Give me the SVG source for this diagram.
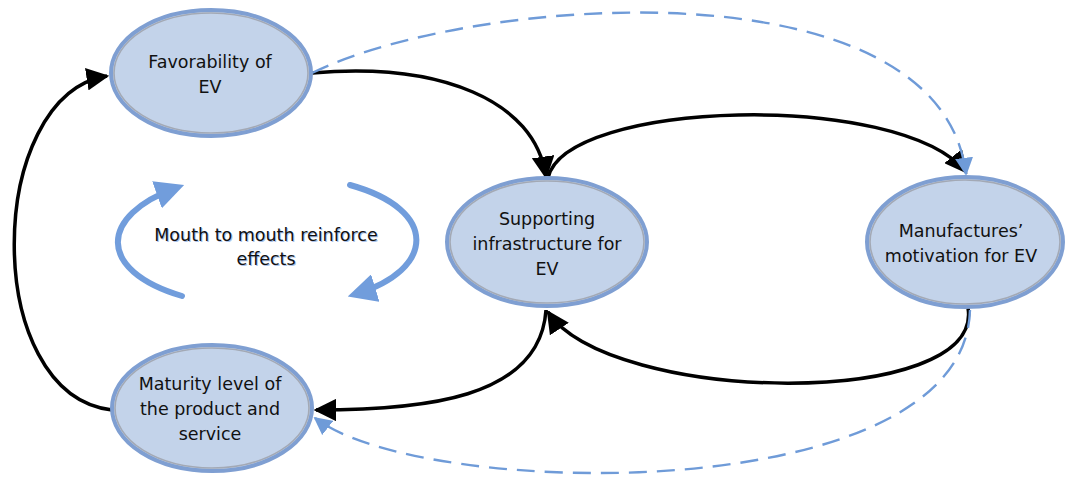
<svg xmlns="http://www.w3.org/2000/svg" width="1065" height="482" viewBox="0 0 1065 482">
<defs>
<style>
.node-outer{fill:#c3d3ea;stroke:#7f9fd2;stroke-width:4}
.node-inner{fill:none;stroke:#a3a9b5;stroke-width:1.6}
.lbl{font-family:"DejaVu Sans",Verdana,sans-serif;font-size:17.5px;fill:#111;text-anchor:middle}
.blk{fill:none;stroke:#000;stroke-width:3.5;marker-end:url(#ab)}
.dash{fill:none;stroke:#6f9bd8;stroke-width:2.4;stroke-dasharray:18 10}
.loop{fill:none;stroke:#719ddc;stroke-width:6;stroke-linecap:round}
</style>
<marker id="ab" viewBox="0 0 10 10" refX="9" refY="5" markerWidth="6.5" markerHeight="6.5" orient="auto" markerUnits="strokeWidth">
<path d="M0,0 L10,5 L0,10 Z" fill="#000"/>
</marker>
<marker id="ad" viewBox="0 0 10 10" refX="9" refY="5" markerWidth="7.5" markerHeight="7.5" orient="auto" markerUnits="strokeWidth">
<path d="M0,0 L10,5 L0,10 Z" fill="#6f9bd8"/>
</marker>
<marker id="al" viewBox="0 0 10 10" refX="7" refY="5" markerWidth="4.8" markerHeight="4.8" orient="auto" markerUnits="strokeWidth">
<path d="M0,0 L10,5 L0,10 Z" fill="#719ddc"/>
</marker>
</defs>

<g id="connectors">
<path class="blk" d="M112,410 C-20,395 -15,95 107,76"/>
<path class="blk" d="M312,73 C440,62 535,100 546,177"/>
<path class="blk" d="M548,178 C565,100 900,90 966,172"/>
<path class="blk" d="M968,308 C985,410 610,405 548,312"/>
<path class="blk" d="M546,310 C540,400 420,410 316,410"/>
<path class="dash" marker-end="url(#ad)" d="M312,73 C470,-5 940,-40 966,174"/>
<path class="dash" marker-end="url(#ad)" d="M970,310 C965,510 420,500 315,418"/>
</g>

<g id="loop-arrows">
<path class="loop" marker-end="url(#al)" d="M182,296 C95,270 100,215 176,188"/>
<path class="loop" marker-end="url(#al)" d="M350,185 C440,210 435,270 356,294"/>
</g>

<g id="node-favorability">
<ellipse class="node-outer" cx="211" cy="73" rx="100" ry="63"/>
<ellipse class="node-inner" cx="211" cy="73" rx="97" ry="60"/>
<text class="lbl" x="210" y="68">Favorability of</text>
<text class="lbl" x="210" y="93">EV</text>
</g>

<g id="node-supporting">
<ellipse class="node-outer" cx="547" cy="242" rx="100" ry="64"/>
<ellipse class="node-inner" cx="547" cy="242" rx="97" ry="61"/>
<text class="lbl" x="547" y="225">Supporting</text>
<text class="lbl" x="547" y="250">infrastructure for</text>
<text class="lbl" x="547" y="275">EV</text>
</g>

<g id="node-manufactures">
<ellipse class="node-outer" cx="965" cy="242" rx="98" ry="65"/>
<ellipse class="node-inner" cx="965" cy="242" rx="95" ry="62"/>
<text class="lbl" x="961" y="237">Manufactures’</text>
<text class="lbl" x="961" y="262">motivation for EV</text>
</g>

<g id="node-maturity">
<ellipse class="node-outer" cx="212" cy="408" rx="100" ry="63"/>
<ellipse class="node-inner" cx="212" cy="408" rx="97" ry="60"/>
<text class="lbl" x="210" y="390">Maturity level of</text>
<text class="lbl" x="210" y="415">the product and</text>
<text class="lbl" x="210" y="440">service</text>
</g>

<g id="loop-label">
<text class="lbl" x="267" y="242" style="fill:#a9c2ea">Mouth to mouth reinforce</text>
<text class="lbl" x="267" y="266" style="fill:#a9c2ea">effects</text>
<text class="lbl" x="266" y="241">Mouth to mouth reinforce</text>
<text class="lbl" x="266" y="265">effects</text>
</g>
</svg>
